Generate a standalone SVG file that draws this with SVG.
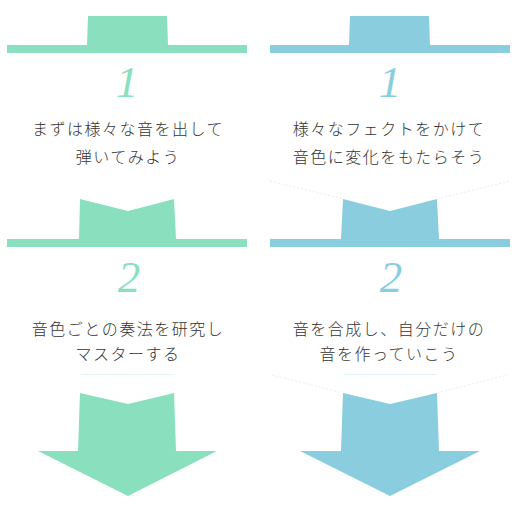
<svg xmlns="http://www.w3.org/2000/svg" width="517" height="510" viewBox="0 0 517 510">
<style>
.g{fill:#8adfbf}
.b{fill:#8acddf}
.num{font-family:"Liberation Serif",serif;font-style:italic;font-size:45px;text-anchor:middle}
.t{font-family:"Noto Sans CJK JP","Noto Sans",sans-serif;font-size:16px;font-weight:300;fill:#333;text-anchor:middle;letter-spacing:1.5px}
.faintg{stroke:#e2f7ef;stroke-width:1;fill:none}
.faintb{stroke:#def2f7;stroke-width:1;fill:none}
.dot{stroke:#ececec;stroke-width:1;stroke-dasharray:2 2;fill:none}
</style>
<rect width="517" height="510" fill="#fff"/>
<g id="connectors">
<path class="dot" d="M270 181 L343 199 M437 199 L510 181"/>
<path class="dot" d="M272 375 L343 393 M437 393 L507 375"/>
<path class="faintg" d="M81 374.5 H174"/>
<path class="faintb" d="M344 374.5 H436"/>
</g>
<g id="left-step1">
<path class="g" d="M88 16 H167 L168 45 H247 V53 H7 V45 H87 Z"/>
<text class="num g" x="127" y="97">1</text>
<text class="t" x="128" y="135">まずは様々な音を出して</text>
<text class="t" x="128" y="163">弾いてみよう</text>
</g>
<g id="left-step2">
<path class="g" d="M80 199 L128 211 L174 199 L176 239 H247 V247 H7 V239 H79 Z"/>
<text class="num g" x="129" y="292">2</text>
<text class="t" x="128" y="335">音色ごとの奏法を研究し</text>
<text class="t" x="128" y="360">マスターする</text>
</g>
<g id="left-arrow">
<path class="g" d="M80 393 L128 404 L174 393 L176 451 H217 L128 496 L38 451 H78 Z"/>
</g>
<g id="right-step1">
<path class="b" d="M350 16 H429 L430 45 H510 V53 H270 V45 H349 Z"/>
<text class="num b" x="390" y="97">1</text>
<text class="t" x="389" y="135">様々なフェクトをかけて</text>
<text class="t" x="389" y="163">音色に変化をもたらそう</text>
</g>
<g id="right-step2">
<path class="b" d="M343 199 L390 211 L437 199 L439 239 H510 V247 H270 V239 H341 Z"/>
<text class="num b" x="391" y="292">2</text>
<text class="t" x="389" y="335">音を合成し、自分だけの</text>
<text class="t" x="389" y="360">音を作っていこう</text>
</g>
<g id="right-arrow">
<path class="b" d="M343 393 L390 404 L437 393 L439 451 H480 L390 496 L300 451 H341 Z"/>
</g>
</svg>
